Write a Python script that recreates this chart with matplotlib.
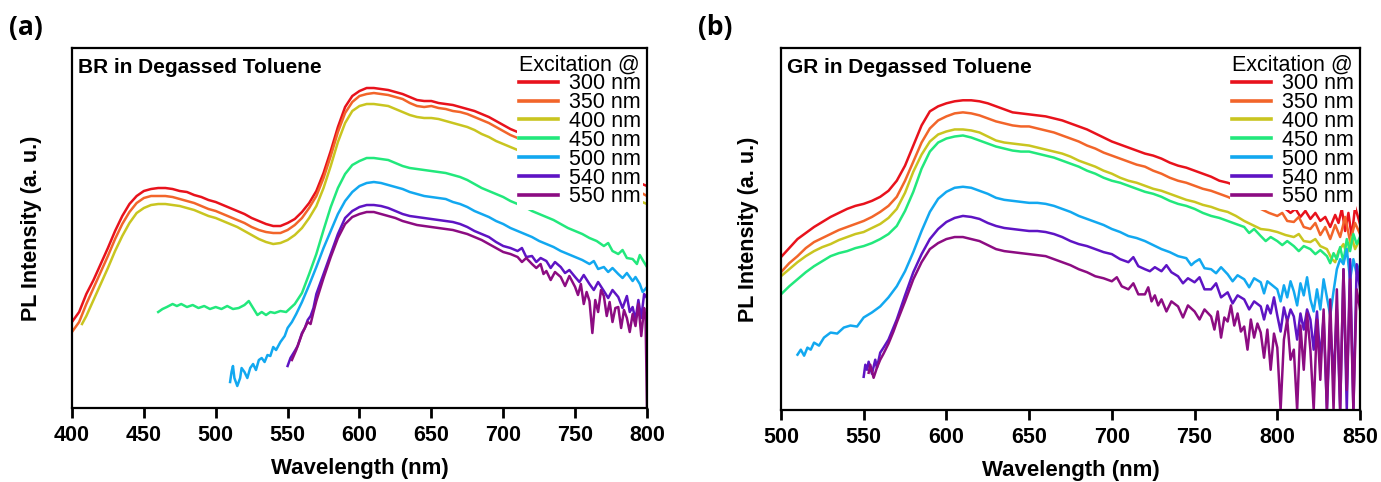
import matplotlib
matplotlib.use('Agg')
import matplotlib.pyplot as plt
import numpy as np

plt.rcParams['font.family'] = ['Liberation Sans', 'DejaVu Sans']

labels = ['300 nm', '350 nm', '400 nm', '450 nm', '500 nm', '540 nm', '550 nm']
colors = ['#e8121c', '#f2652a', '#c9c520', '#22e87c', '#12a8f0', '#5e14c4', '#8c0c82']

# panel (a): BR, (wavelength nm, PL intensity a.u.)
a_300 = [(400, 86), (405, 96), (410, 114), (415, 128), (420, 144), (425, 160), (430, 177), (435, 192), (440, 204),
         (445, 212), (450, 217), (455, 219), (460, 220), (465, 220), (470, 219), (475, 217), (480, 216), (485, 213),
         (490, 211), (495, 208), (500, 206), (505, 203), (510, 200), (515, 197), (520, 194), (525, 190), (530, 187),
         (535, 184), (540, 182), (545, 182), (550, 185), (555, 189), (560, 196), (565, 205), (570, 217), (575, 235),
         (580, 257), (585, 281), (590, 301), (595, 312), (600, 317), (605, 320), (610, 320), (615, 319), (620, 318),
         (625, 316), (630, 314), (635, 311), (640, 308), (645, 307), (650, 307), (655, 305), (660, 304), (665, 303),
         (670, 301), (675, 299), (680, 297), (685, 294), (690, 291), (695, 287), (700, 283), (705, 279), (710, 276),
         (720, 270), (730, 264), (740, 258), (750, 252), (760, 246), (770, 240), (780, 234), (790, 228), (795, 225),
         (800, 222)]
a_350 = [(400, 76), (405, 86), (410, 104), (415, 120), (420, 136), (425, 152), (430, 169), (435, 184), (440, 196),
         (445, 205), (450, 210), (455, 212), (460, 212), (465, 212), (470, 211), (475, 209), (480, 207), (485, 205),
         (490, 202), (495, 199), (500, 197), (505, 194), (510, 191), (515, 188), (520, 185), (525, 181), (530, 178),
         (535, 176), (540, 175), (545, 175), (550, 178), (555, 183), (560, 190), (565, 200), (570, 212), (575, 230),
         (580, 252), (585, 276), (590, 295), (595, 306), (600, 312), (605, 314), (610, 315), (615, 314), (620, 313),
         (625, 311), (630, 309), (635, 305), (640, 302), (645, 301), (650, 302), (655, 300), (660, 299), (665, 297),
         (670, 296), (675, 294), (680, 291), (685, 288), (690, 285), (695, 281), (700, 277), (705, 273), (710, 270),
         (720, 264), (730, 258), (740, 252), (750, 246), (760, 240), (770, 234), (780, 227), (790, 219), (795, 216),
         (800, 212)]
a_400 = [(407, 84), (410, 92), (415, 108), (420, 124), (425, 140), (430, 157), (435, 172), (440, 185), (445, 195),
         (450, 200), (455, 203), (460, 204), (465, 204), (470, 203), (475, 202), (480, 200), (485, 198), (490, 195),
         (495, 192), (500, 190), (505, 187), (510, 184), (515, 181), (520, 177), (525, 173), (530, 169), (535, 166),
         (540, 164), (545, 165), (550, 168), (555, 173), (560, 180), (565, 190), (570, 202), (575, 220), (580, 242),
         (585, 266), (590, 285), (595, 297), (600, 302), (605, 304), (610, 304), (615, 303), (620, 302), (625, 299),
         (630, 296), (635, 293), (640, 291), (645, 290), (650, 290), (655, 289), (660, 287), (665, 285), (670, 283),
         (675, 281), (680, 278), (685, 274), (690, 271), (695, 267), (700, 264), (705, 261), (710, 258), (720, 252),
         (730, 246), (740, 240), (750, 234), (760, 228), (770, 222), (780, 216), (790, 210), (795, 207), (800, 204)]
a_450 = [(460, 96), (463, 99), (466, 101), (470, 104), (473, 102), (476, 104), (480, 101), (484, 103), (488, 100),
         (492, 102), (496, 99), (500, 101), (504, 99), (508, 102), (512, 99), (516, 100), (520, 103), (523, 107),
         (526, 100), (529, 93), (532, 96), (535, 93), (538, 96), (541, 95), (545, 97), (549, 96), (552, 100),
         (555, 104), (560, 115), (565, 134), (570, 154), (575, 178), (580, 201), (585, 220), (590, 234), (595, 243),
         (600, 247), (605, 250), (610, 250), (615, 249), (620, 248), (625, 245), (630, 242), (635, 240), (640, 239),
         (645, 238), (650, 237), (655, 236), (660, 235), (665, 233), (670, 231), (675, 228), (680, 224), (685, 220),
         (690, 217), (695, 214), (700, 211), (705, 207), (710, 204), (715, 201), (720, 197), (725, 194), (730, 191),
         (735, 188), (740, 184), (745, 180), (750, 177), (755, 174), (760, 170), (765, 167), (770, 162), (773, 165),
         (776, 157), (780, 154), (783, 158), (786, 150), (790, 149), (793, 144), (795, 153), (797, 148), (800, 141)]
a_500 = [(510, 26), (511, 36), (512, 42), (513, 30), (515, 22), (517, 30), (518, 40), (520, 36), (522, 30),
         (524, 40), (526, 44), (528, 38), (530, 48), (532, 50), (534, 46), (536, 53), (538, 52), (540, 61), (542, 58),
         (545, 66), (548, 72), (550, 80), (553, 86), (556, 94), (560, 106), (565, 123), (570, 141), (575, 160),
         (580, 177), (585, 194), (590, 207), (595, 216), (600, 222), (605, 225), (610, 226), (615, 225), (620, 223),
         (625, 221), (630, 219), (635, 216), (640, 214), (645, 212), (650, 211), (655, 210), (660, 209), (665, 206),
         (670, 204), (675, 201), (680, 197), (685, 194), (690, 191), (695, 187), (700, 184), (705, 180), (710, 177),
         (715, 174), (720, 171), (725, 167), (730, 164), (735, 161), (740, 157), (745, 154), (750, 151), (755, 148),
         (760, 144), (763, 147), (766, 139), (770, 141), (773, 136), (776, 140), (780, 134), (783, 130), (786, 135),
         (790, 127), (792, 131), (795, 124), (797, 116), (800, 121)]
a_540 = [(550, 42), (552, 50), (555, 57), (557, 62), (560, 75), (562, 80), (564, 88), (566, 92), (568, 100),
         (570, 114), (575, 134), (580, 154), (585, 174), (590, 190), (595, 197), (600, 201), (605, 203), (610, 203),
         (615, 202), (620, 200), (625, 197), (630, 194), (635, 192), (640, 191), (645, 190), (650, 189), (655, 188),
         (660, 187), (665, 186), (670, 184), (675, 181), (680, 177), (685, 174), (690, 171), (695, 166), (700, 162),
         (705, 160), (710, 157), (713, 160), (716, 151), (720, 152), (723, 146), (726, 150), (730, 147), (733, 140),
         (736, 146), (740, 141), (743, 135), (746, 138), (750, 131), (753, 126), (756, 133), (760, 124), (763, 118),
         (766, 126), (770, 117), (773, 110), (776, 118), (780, 111), (783, 100), (786, 112), (788, 96), (790, 101),
         (792, 88), (794, 108), (796, 90), (798, 114), (800, 110)]
a_550 = [(553, 48), (556, 58), (560, 74), (562, 80), (564, 86), (566, 84), (568, 96), (570, 107), (575, 130),
         (580, 151), (585, 170), (590, 184), (595, 191), (600, 194), (605, 196), (610, 196), (615, 194), (620, 192),
         (625, 190), (630, 187), (635, 185), (640, 183), (645, 182), (650, 181), (655, 180), (660, 179), (665, 178),
         (670, 176), (675, 174), (680, 171), (685, 168), (690, 164), (695, 160), (700, 156), (705, 154), (710, 151),
         (713, 146), (716, 150), (720, 144), (723, 140), (726, 144), (728, 134), (730, 137), (733, 128), (736, 136),
         (740, 131), (743, 122), (746, 132), (750, 121), (752, 113), (754, 124), (756, 104), (758, 116), (760, 107),
         (762, 75), (764, 108), (766, 96), (768, 118), (770, 112), (772, 92), (774, 106), (776, 86), (778, 100),
         (780, 101), (782, 80), (784, 98), (786, 90), (788, 76), (790, 94), (792, 82), (794, 104), (796, 72),
         (798, 100), (799, 90), (800, 0)]

# panel (b): GR
b_300 = [(500, 152), (505, 161), (510, 170), (515, 176), (520, 182), (525, 187), (530, 192), (535, 196), (540, 200),
         (545, 203), (550, 205), (555, 208), (560, 212), (565, 218), (570, 228), (575, 243), (580, 263), (585, 283),
         (590, 297), (595, 302), (600, 305), (605, 307), (610, 308), (615, 308), (620, 307), (625, 305), (630, 302),
         (635, 299), (640, 296), (645, 295), (650, 294), (655, 293), (660, 292), (665, 290), (670, 288), (675, 285),
         (680, 282), (685, 279), (690, 275), (695, 271), (700, 267), (705, 264), (710, 261), (715, 258), (720, 255),
         (725, 253), (730, 250), (735, 246), (740, 243), (745, 241), (750, 238), (755, 235), (760, 232), (765, 228),
         (770, 226), (780, 220), (790, 212), (800, 205), (805, 200), (808, 196), (811, 200), (814, 192), (817, 198),
         (820, 190), (823, 196), (826, 188), (829, 192), (832, 182), (835, 194), (837, 186), (839, 200), (841, 178),
         (843, 196), (845, 172), (847, 202), (850, 185)]
b_350 = [(500, 137), (505, 146), (510, 153), (515, 161), (520, 167), (525, 171), (530, 175), (535, 179), (540, 182),
         (545, 185), (550, 188), (555, 192), (560, 197), (565, 203), (570, 212), (575, 228), (580, 247), (585, 266),
         (590, 280), (595, 288), (600, 292), (605, 295), (610, 296), (615, 295), (620, 293), (625, 290), (630, 287),
         (635, 285), (640, 283), (645, 282), (650, 282), (655, 280), (660, 278), (665, 276), (670, 273), (675, 270),
         (680, 267), (685, 263), (690, 260), (695, 256), (700, 253), (705, 250), (710, 247), (715, 244), (720, 242),
         (725, 238), (730, 235), (735, 231), (740, 228), (745, 226), (750, 223), (755, 220), (760, 218), (765, 215),
         (770, 212), (780, 205), (785, 202), (790, 200), (795, 196), (800, 193), (803, 196), (806, 188), (810, 187),
         (813, 192), (816, 182), (820, 180), (823, 186), (826, 174), (829, 182), (832, 170), (835, 184), (838, 172),
         (841, 192), (844, 168), (847, 186), (850, 175)]
b_400 = [(500, 133), (505, 140), (510, 147), (515, 153), (520, 158), (525, 162), (530, 165), (535, 169), (540, 172),
         (545, 175), (550, 177), (555, 181), (560, 185), (565, 191), (570, 200), (575, 216), (580, 237), (585, 254),
         (590, 267), (595, 274), (600, 277), (605, 279), (610, 279), (615, 278), (620, 276), (625, 272), (630, 268),
         (635, 266), (640, 265), (645, 264), (650, 263), (655, 261), (660, 259), (665, 257), (670, 255), (675, 252),
         (680, 248), (685, 245), (690, 242), (695, 238), (700, 235), (705, 231), (710, 228), (715, 226), (720, 223),
         (725, 220), (730, 218), (735, 215), (740, 212), (745, 209), (750, 207), (755, 204), (760, 202), (765, 199),
         (770, 197), (775, 193), (780, 188), (785, 184), (790, 180), (795, 179), (800, 177), (805, 174), (810, 172),
         (813, 175), (816, 168), (820, 167), (823, 170), (826, 163), (830, 160), (833, 150), (835, 147), (837, 158),
         (840, 165), (842, 155), (845, 172), (847, 160), (850, 170)]
b_450 = [(500, 115), (505, 123), (510, 130), (515, 137), (520, 143), (525, 148), (530, 153), (535, 156), (540, 158),
         (545, 161), (550, 163), (555, 166), (560, 170), (565, 175), (570, 183), (575, 198), (580, 217), (585, 240),
         (590, 257), (595, 266), (600, 270), (605, 272), (610, 273), (615, 271), (620, 268), (625, 265), (630, 262),
         (635, 260), (640, 258), (645, 257), (650, 257), (655, 255), (660, 253), (665, 251), (670, 248), (675, 245),
         (680, 242), (685, 238), (690, 235), (695, 231), (700, 228), (705, 226), (710, 223), (715, 220), (720, 217),
         (725, 215), (730, 212), (735, 208), (740, 205), (745, 203), (750, 200), (755, 196), (760, 193), (765, 191),
         (770, 188), (775, 185), (780, 182), (783, 176), (786, 180), (790, 173), (793, 168), (796, 172), (800, 168),
         (803, 164), (806, 168), (810, 163), (813, 158), (816, 163), (820, 160), (823, 155), (826, 159), (830, 153),
         (832, 146), (834, 156), (836, 150), (838, 162), (840, 147), (842, 170), (844, 158), (846, 175), (848, 165),
         (850, 172)]
b_500 = [(510, 55), (512, 60), (514, 54), (516, 62), (518, 60), (520, 67), (523, 64), (526, 72), (530, 77),
         (534, 76), (538, 82), (542, 84), (546, 83), (550, 92), (555, 97), (560, 103), (565, 112), (570, 123),
         (575, 138), (580, 157), (585, 178), (590, 197), (595, 210), (600, 217), (605, 221), (610, 222), (615, 221),
         (620, 218), (625, 215), (630, 211), (635, 209), (640, 208), (645, 207), (650, 206), (655, 206), (660, 205),
         (665, 203), (670, 200), (675, 197), (680, 193), (685, 190), (690, 187), (695, 184), (700, 180), (705, 177),
         (710, 173), (715, 171), (720, 168), (725, 164), (730, 160), (735, 157), (740, 153), (745, 151), (748, 144),
         (750, 147), (753, 150), (756, 141), (760, 140), (763, 136), (766, 142), (770, 135), (773, 128), (776, 134),
         (780, 130), (783, 122), (786, 131), (790, 127), (792, 116), (794, 128), (797, 124), (800, 120), (802, 108),
         (804, 124), (806, 112), (808, 128), (810, 118), (812, 104), (814, 126), (816, 114), (818, 132), (820, 110),
         (822, 98), (824, 120), (826, 100), (828, 130), (830, 112), (832, 94), (834, 118), (836, 140), (838, 150),
         (840, 145), (842, 160), (844, 130), (846, 150), (848, 135), (850, 145)]
b_540 = [(550, 33), (551, 45), (552, 40), (553, 48), (555, 36), (557, 50), (558, 42), (560, 57), (562, 62),
         (565, 70), (568, 82), (570, 90), (575, 114), (580, 137), (585, 155), (590, 170), (595, 180), (600, 187),
         (605, 191), (610, 193), (615, 192), (620, 190), (625, 186), (630, 183), (635, 181), (640, 180), (645, 179),
         (650, 178), (655, 178), (660, 177), (665, 175), (670, 172), (675, 168), (680, 165), (685, 163), (690, 160),
         (695, 157), (700, 155), (705, 150), (710, 147), (713, 152), (716, 143), (720, 140), (723, 138), (726, 142),
         (730, 138), (733, 144), (736, 137), (740, 133), (743, 126), (746, 131), (750, 127), (753, 132), (756, 120),
         (760, 120), (763, 126), (766, 112), (770, 117), (773, 106), (776, 114), (780, 110), (783, 100), (786, 108),
         (790, 103), (792, 90), (794, 104), (796, 96), (798, 112), (800, 94), (802, 78), (804, 102), (806, 88),
         (808, 100), (810, 93), (812, 70), (814, 96), (816, 80), (818, 100), (820, 90), (822, 60), (824, 98),
         (826, 50), (828, 92), (830, 0), (832, 88), (834, 30), (836, 100), (838, 0), (840, 140), (842, 0), (844, 150),
         (846, 0), (848, 145), (850, 120)]
b_550 = [(553, 37), (554, 45), (556, 32), (558, 42), (560, 50), (562, 56), (565, 66), (568, 78), (570, 87),
         (575, 108), (580, 130), (585, 147), (590, 160), (595, 166), (600, 170), (605, 172), (610, 172), (615, 170),
         (620, 168), (625, 164), (630, 160), (635, 158), (640, 157), (645, 156), (650, 155), (655, 154), (660, 153),
         (665, 150), (670, 147), (675, 144), (680, 140), (685, 137), (690, 133), (695, 131), (700, 128), (703, 132),
         (706, 123), (710, 120), (713, 126), (716, 115), (720, 115), (722, 122), (724, 108), (726, 114), (728, 104),
         (730, 110), (733, 98), (736, 108), (740, 103), (743, 92), (746, 104), (750, 98), (753, 90), (756, 100),
         (760, 93), (762, 80), (764, 98), (766, 72), (768, 92), (770, 88), (772, 104), (774, 84), (776, 96),
         (778, 78), (780, 83), (782, 60), (784, 90), (786, 72), (788, 86), (790, 77), (792, 52), (794, 80), (796, 40),
         (798, 76), (800, 62), (802, 0), (804, 70), (806, 90), (808, 50), (810, 60), (812, 0), (814, 84), (816, 40),
         (818, 96), (820, 60), (822, 0), (824, 90), (826, 30), (828, 100), (830, 0), (832, 110), (834, 0), (836, 120),
         (838, 0), (840, 140), (842, 20), (844, 130), (846, 0), (848, 120), (850, 100)]

series_a = [a_300, a_350, a_400, a_450, a_500, a_540, a_550]
series_b = [b_300, b_350, b_400, b_450, b_500, b_540, b_550]


def draw_panel(ax, series, xlim, xticks, note, label_x):
    for data, c, lab in zip(series, colors, labels):
        wl, inten = zip(*data)
        ax.plot(wl, inten, color=c, lw=1.8, label=lab)
    ax.set_xlim(*xlim)
    ax.set_ylim(0, 360)
    ax.set_xticks(xticks)
    ax.set_yticks([])
    ax.tick_params(axis='x', direction='out', length=7, width=2, pad=5, labelsize=15.5)
    for lbl in ax.get_xticklabels():
        lbl.set_fontweight('bold')
    for sp in ax.spines.values():
        sp.set_linewidth(1.6)
    ax.set_xlabel('Wavelength (nm)', fontsize=16, fontweight='bold')
    ax.xaxis.set_label_coords(0.5, -0.139)
    ax.set_ylabel('PL Intensity (a. u.)', fontsize=15.5, fontweight='bold')
    ax.yaxis.set_label_coords(label_x, 0.5)
    ax.text(0.01, 0.972, note, transform=ax.transAxes, ha='left', va='top',
            fontsize=15, fontweight='bold')
    leg = ax.legend(title='Excitation @', loc='upper right', fontsize=15.5, title_fontsize=15.5,
                    frameon=True, facecolor='white', edgecolor='none', framealpha=1, fancybox=False,
                    handlelength=1.8, handletextpad=0.5, labelspacing=-0.1, borderpad=0.1,
                    borderaxespad=0.2, alignment='left')
    for h in leg.legend_handles:
        h.set_linewidth(2.6)


fig = plt.figure(figsize=(13.81, 4.82), dpi=100)
ax_a = fig.add_axes([0.0521, 0.1535, 0.4164, 0.7469])
ax_b = fig.add_axes([0.5655, 0.1494, 0.4193, 0.7510])

draw_panel(ax_a, series_a, (400, 800), np.arange(400, 801, 50), 'BR in Degassed Toluene', -0.052)
draw_panel(ax_b, series_b, (500, 850), np.arange(500, 851, 50), 'GR in Degassed Toluene', -0.038)

fig.text(0.019, 0.942, '(a)', fontsize=19, fontweight='bold', family=['Open Sans', 'DejaVu Sans'],
         ha='center', va='center')
fig.text(0.518, 0.942, '(b)', fontsize=19, fontweight='bold', family=['Open Sans', 'DejaVu Sans'],
         ha='center', va='center')

fig.savefig('out.png', dpi=100)
